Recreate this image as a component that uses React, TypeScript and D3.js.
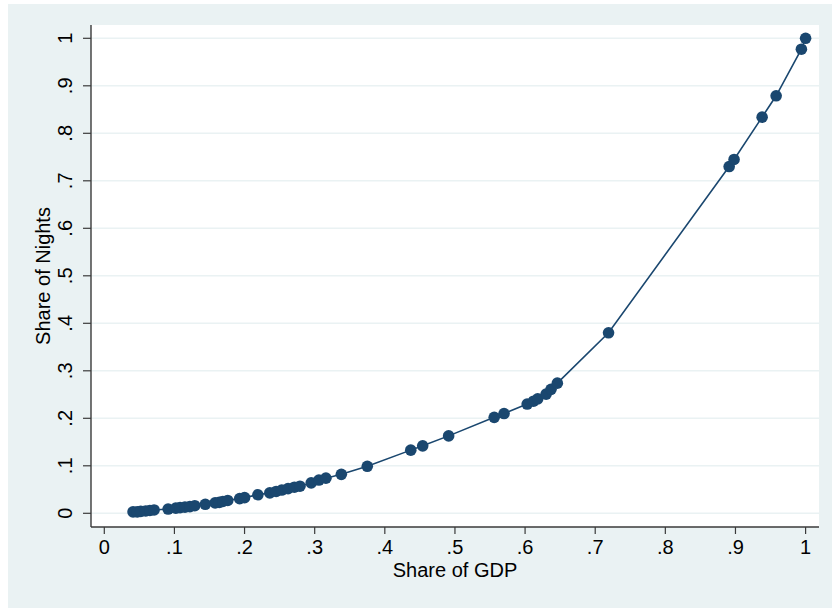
import React from "react";
import * as d3 from "d3";

const shareGDP: number[] = [
  0.041, 0.047, 0.052, 0.059, 0.065, 0.071, 0.091, 0.102, 0.108, 0.115,
  0.122, 0.129, 0.144, 0.158, 0.164, 0.169, 0.176, 0.193, 0.2, 0.219,
  0.236, 0.245, 0.253, 0.262, 0.271, 0.279, 0.295, 0.306, 0.316, 0.338,
  0.375, 0.437, 0.454, 0.491, 0.556, 0.57, 0.603, 0.612, 0.618, 0.63,
  0.637, 0.646, 0.719, 0.891, 0.898, 0.938, 0.958, 0.994, 1.0,
];
const shareNights: number[] = [
  0.003, 0.003, 0.004, 0.005, 0.006, 0.007, 0.009, 0.011, 0.012, 0.013,
  0.014, 0.016, 0.019, 0.022, 0.023, 0.025, 0.027, 0.031, 0.033, 0.039,
  0.043, 0.046, 0.049, 0.052, 0.055, 0.057, 0.064, 0.07, 0.074, 0.082,
  0.099, 0.133, 0.142, 0.163, 0.202, 0.21, 0.23, 0.236, 0.241, 0.251,
  0.261, 0.274, 0.38, 0.73, 0.745, 0.834, 0.879, 0.977, 1.0,
];
const xTicks: number[] = [0, 0.1, 0.2, 0.3, 0.4, 0.5, 0.6, 0.7, 0.8, 0.9, 1];
const yTicks: number[] = [0, 0.1, 0.2, 0.3, 0.4, 0.5, 0.6, 0.7, 0.8, 0.9, 1];
const xTitle = "Share of GDP";
const yTitle = "Share of Nights";

const W = 832;
const H = 608;
const plot = { left: 91, right: 819, top: 25, bottom: 527 };
const BG = "#eaf2f3";
const NAVY = "#1a476f";
const AXIS = "#3a3a3a";
const FONT = "'Liberation Sans', Arial, Helvetica, sans-serif";
const FS = 20;

const fmt = (v: number) => {
  if (v === 0) return "0";
  if (v === 1) return "1";
  return d3.format(".1f")(v).replace(/^0\./, ".");
};

export default function App() {
  const x = d3.scaleLinear().domain([0, 1]).range([104.3, 805.6]);
  const y = d3.scaleLinear().domain([0, 1]).range([513.3, 38.3]);
  const pts = shareGDP.map((g, i) => [g, shareNights[i]] as [number, number]);
  const line = d3
    .line<[number, number]>()
    .x((d) => x(d[0]))
    .y((d) => y(d[1]));

  return (
    <svg
      width={W}
      height={H}
      style={{ position: "absolute", left: 0, top: 0, display: "block" }}
      fontFamily={FONT}
    >
      <rect x={0} y={0} width={W} height={H} fill="#ffffff" />
      <rect x={8} y={4} width={W - 8} height={H - 4} fill={BG} />
      <rect
        x={plot.left}
        y={plot.top}
        width={plot.right - plot.left}
        height={plot.bottom - plot.top}
        fill="#ffffff"
      />
      {yTicks.map((t) => (
        <line
          key={"g" + t}
          x1={plot.left}
          x2={plot.right}
          y1={y(t)}
          y2={y(t)}
          stroke={BG}
          strokeWidth={1.6}
        />
      ))}
      <path d={line(pts) || ""} fill="none" stroke={NAVY} strokeWidth={1.6} />
      {pts.map((d, i) => (
        <circle key={i} cx={x(d[0])} cy={y(d[1])} r={5.8} fill={NAVY} />
      ))}
      <line x1={plot.left} x2={plot.left} y1={plot.top} y2={plot.bottom} stroke={AXIS} strokeWidth={1.4} />
      <line x1={plot.left} x2={plot.right} y1={plot.bottom} y2={plot.bottom} stroke={AXIS} strokeWidth={1.4} />
      {yTicks.map((t) => (
        <g key={"y" + t}>
          <line x1={plot.left - 8} x2={plot.left} y1={y(t)} y2={y(t)} stroke={AXIS} strokeWidth={1.2} />
          <text
            transform={`translate(72,${y(t)}) rotate(-90)`}
            textAnchor="middle"
            fontSize={FS}
            fill="#000"
          >
            {fmt(t)}
          </text>
        </g>
      ))}
      {xTicks.map((t) => (
        <g key={"x" + t}>
          <line x1={x(t)} x2={x(t)} y1={plot.bottom} y2={plot.bottom + 7} stroke={AXIS} strokeWidth={1.2} />
          <text x={x(t)} y={554} textAnchor="middle" fontSize={FS} fill="#000">
            {fmt(t)}
          </text>
        </g>
      ))}
      <text x={(plot.left + plot.right) / 2} y={577} textAnchor="middle" fontSize={FS} fill="#000">
        {xTitle}
      </text>
      <text
        transform={`translate(50,${(plot.top + plot.bottom) / 2}) rotate(-90)`}
        textAnchor="middle"
        fontSize={FS}
        fill="#000"
      >
        {yTitle}
      </text>
    </svg>
  );
}
